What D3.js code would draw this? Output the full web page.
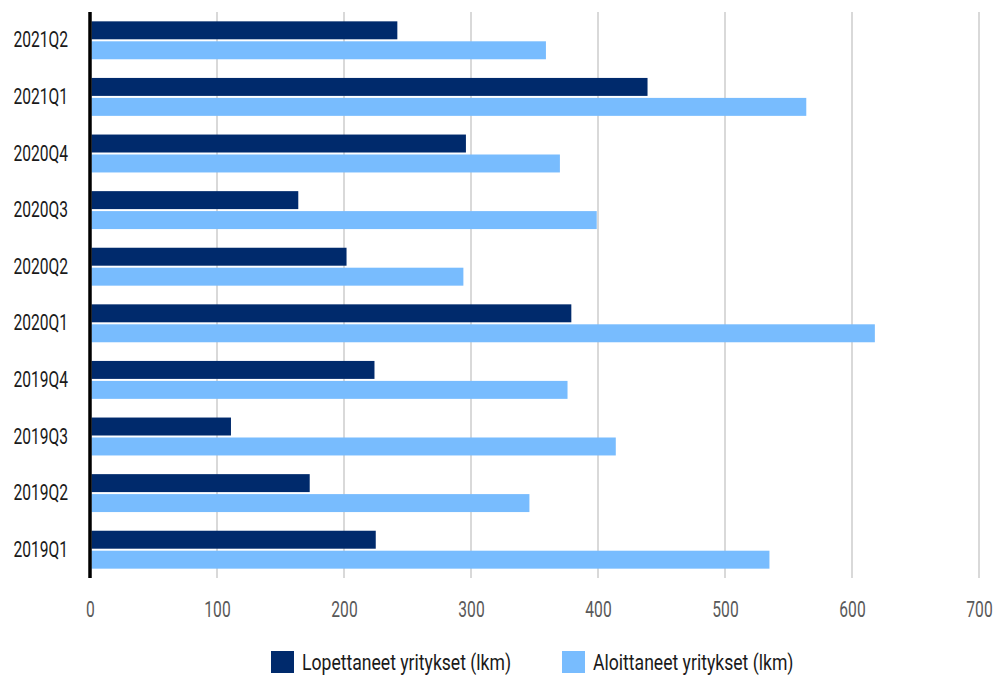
<!DOCTYPE html>
<html>
<head>
<meta charset="utf-8">
<script src="https://cdn.jsdelivr.net/npm/d3@7"></script>
<style>
  html, body { margin: 0; padding: 0; background: #fff; }
  svg { display: block; }
  text { font-family: Roboto, "Noto Sans", sans-serif; }
</style>
</head>
<body>
<svg id="chart" width="996" height="675"></svg>
<script>
// Quarterly counts of closed and started companies
const quarters = ["2021Q2", "2021Q1", "2020Q4", "2020Q3", "2020Q2", "2020Q1", "2019Q4", "2019Q3", "2019Q2", "2019Q1"];
const lopettaneet = [242, 439, 296, 164, 202, 379, 224, 111, 173, 225];
const aloittaneet = [359, 564, 370, 399, 294, 618, 376, 414, 346, 535];
const xTicks = [0, 100, 200, 300, 400, 500, 600, 700];
const seriesNames = ["Lopettaneet yritykset (lkm)", "Aloittaneet yritykset (lkm)"];
const seriesColors = ["#002a6c", "#78bcfe"];

const svg = d3.select("#chart");
const margin = { left: 90, right: 17, top: 12, bottom: 97 };
const W = 996, H = 675;
const squeeze = 0.71;       // horizontal compression for axis labels
const legendSqueeze = 0.8;  // horizontal compression for legend labels

const x = d3.scaleLinear().domain([0, 700]).range([margin.left, W - margin.right]);
const y = d3.scaleBand().domain(quarters).range([margin.top, H - margin.bottom]).paddingInner(0.33).paddingOuter(0.165);
const barH = (y.bandwidth() - 2) / 2;

// vertical gridlines
svg.append("g")
  .selectAll("line")
  .data(xTicks.filter(d => d > 0))
  .join("line")
  .attr("x1", d => x(d)).attr("x2", d => x(d))
  .attr("y1", margin.top).attr("y2", H - margin.bottom)
  .attr("stroke", "#d9d9d9").attr("stroke-width", 2);

// bars
const rows = quarters.map((q, i) => ({ q, values: [lopettaneet[i], aloittaneet[i]] }));
const g = svg.append("g");
rows.forEach(r => {
  r.values.forEach((v, k) => {
    g.append("rect")
      .attr("x", x(0) + 1.5)
      .attr("y", y(r.q) + k * (barH + 2))
      .attr("width", x(v) - x(0) - 1.5)
      .attr("height", barH)
      .attr("fill", seriesColors[k]);
  });
});

// value axis
const xAxis = svg.append("g")
  .attr("transform", `translate(0,${H - margin.bottom})`)
  .call(d3.axisBottom(x).tickValues(xTicks).tickSize(0).tickPadding(23));
xAxis.select(".domain").remove();
xAxis.selectAll("text")
  .attr("fill", "#595959")
  .style("font-size", "22px")
  .attr("transform", `scale(${squeeze},1)`);

// category axis
const yAxis = svg.append("g")
  .attr("transform", `translate(${x(0)},0)`)
  .call(d3.axisLeft(y).tickSize(0).tickPadding(22 / squeeze));
yAxis.select(".domain").attr("stroke", "#000").attr("stroke-width", 3.5)
  .attr("d", `M0,${margin.top}V${H - margin.bottom}`);
yAxis.selectAll("text")
  .attr("fill", "#1a1a1a")
  .style("font-size", "22px")
  .attr("transform", `scale(${squeeze},1)`);

// legend
const legendX = [271, 562];
const legend = svg.append("g");
seriesNames.forEach((name, k) => {
  legend.append("rect")
    .attr("x", legendX[k]).attr("y", 651)
    .attr("width", 23).attr("height", 22)
    .attr("fill", seriesColors[k]);
  legend.append("g")
    .attr("transform", `translate(${legendX[k] + 31},662) scale(${legendSqueeze},1)`)
    .append("text")
    .attr("dy", "0.35em")
    .attr("fill", "#1a1a1a")
    .style("font-size", "22px")
    .text(name);
});
</script>
</body>
</html>
